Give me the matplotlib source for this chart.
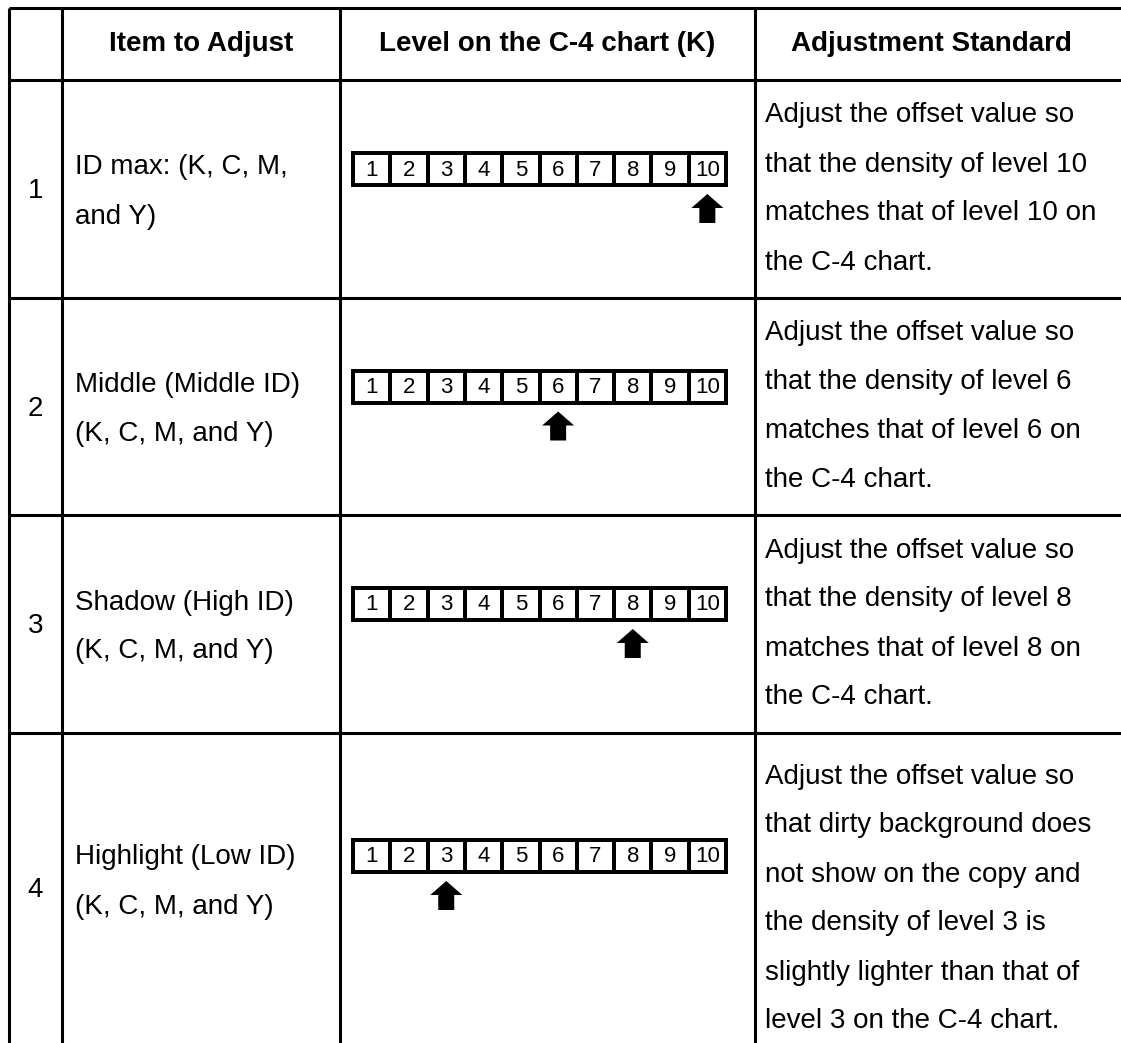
import matplotlib.pyplot as plt
from matplotlib.patches import Rectangle, Polygon

plt.rcParams['font.family'] = ['Liberation Sans', 'DejaVu Sans']

# table content
headers = ["", "Item to Adjust", "Level on the C-4 chart (K)", "Adjustment Standard"]
row_nums = ["1", "2", "3", "4"]
items = [["ID max: (K, C, M,", "and Y)"],
         ["Middle (Middle ID)", "(K, C, M, and Y)"],
         ["Shadow (High ID)", "(K, C, M, and Y)"],
         ["Highlight (Low ID)", "(K, C, M, and Y)"]]
levels = [10, 6, 8, 3]
standards = [["Adjust the offset value so", "that the density of level 10",
              "matches that of level 10 on", "the C-4 chart."],
             ["Adjust the offset value so", "that the density of level 6",
              "matches that of level 6 on", "the C-4 chart."],
             ["Adjust the offset value so", "that the density of level 8",
              "matches that of level 8 on", "the C-4 chart."],
             ["Adjust the offset value so", "that dirty background does",
              "not show on the copy and", "the density of level 3 is",
              "slightly lighter than that of", "level 3 on the C-4 chart."]]
scale_labels = [str(i) for i in range(1, 11)]

# layout in pixels
W, H = 1121, 1043
col_x = [9, 62, 340, 755]
row_y = [8, 80, 298, 515, 733, 1065]
line_gap = 49
lw = 2.2
fs = 20

fig = plt.figure(figsize=(W / 100, H / 100), dpi=100)
ax = fig.add_axes([0, 0, 1, 1])
ax.set_xlim(0, W)
ax.set_ylim(H, 0)
ax.axis('off')

# grid
for y in row_y[:-1]:
    ax.plot([col_x[0], W], [y, y], color='black', lw=lw, solid_capstyle='butt')
for x in col_x:
    ax.plot([x, x], [row_y[0], H], color='black', lw=lw, solid_capstyle='butt')

# header
hy = (row_y[0] + row_y[1]) / 2
col_mid = [(col_x[0] + col_x[1]) / 2, (col_x[1] + col_x[2]) / 2,
           (col_x[2] + col_x[3]) / 2, 931]
for i, h in enumerate(headers):
    ax.text(col_mid[i], hy, h, ha='center', va='center', fontsize=fs, fontweight='bold')

def lines_at(x, yc, lines, ha='left'):
    n = len(lines)
    for k, s in enumerate(lines):
        y = yc + (k - (n - 1) / 2) * line_gap
        ax.text(x, y, s, ha=ha, va='center', fontsize=fs)

strip_x0, strip_x1 = 353, 726
strip_h = 36
cell_w = (strip_x1 - strip_x0) / 10

for r in range(4):
    top, bot = row_y[r + 1], row_y[r + 2]
    yc = (top + bot) / 2
    if r == 3:
        yc = 899
    item_c = yc + 3 if r < 3 else 882
    num_c = yc + 2 if r < 3 else 890
    ax.text(col_mid[0], num_c, row_nums[r], ha='center', va='center', fontsize=fs)
    lines_at(75, item_c, items[r])
    lines_at(765, yc, standards[r])

    # level strip
    st = yc - 38 if r < 3 else 838
    ax.add_patch(Rectangle((strip_x0 - 2, st), strip_x1 - strip_x0 + 4, strip_h,
                           facecolor='black', edgecolor='none'))
    for k, lab in enumerate(scale_labels):
        cx0 = strip_x0 + k * cell_w
        ax.add_patch(Rectangle((cx0 + 2, st + 4), cell_w - 4, strip_h - 8,
                               facecolor='white', edgecolor='none'))
        ax.text(cx0 + cell_w / 2, st + strip_h / 2 + 1, lab, ha='center', va='center',
                fontsize=16)

    # arrow under the target level
    ax_c = strip_x0 + (levels[r] - 0.5) * cell_w
    tip = st + strip_h + 7
    hw, sw, hh, th = 16, 8, 14, 29
    ax.add_patch(Polygon([(ax_c, tip), (ax_c + hw, tip + hh), (ax_c + sw, tip + hh),
                          (ax_c + sw, tip + th), (ax_c - sw, tip + th),
                          (ax_c - sw, tip + hh), (ax_c - hw, tip + hh)],
                         closed=True, facecolor='black', edgecolor='none'))

fig.savefig('out.png', dpi=100)
